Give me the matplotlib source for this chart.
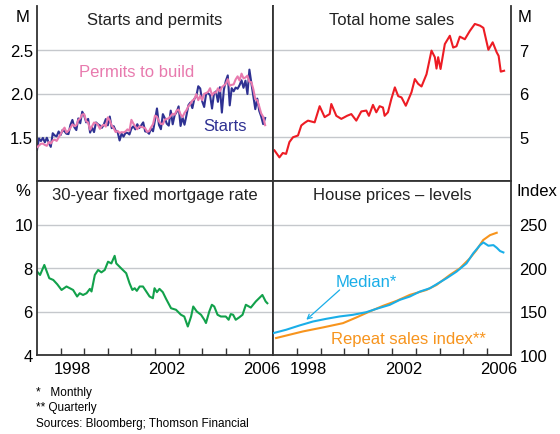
import numpy as np
import matplotlib
matplotlib.use('Agg')
import matplotlib.pyplot as plt

plt.rcParams['font.family'] = ['Liberation Sans', 'DejaVu Sans']

# monthly, Jan 1997 - Sep 2006, millions
starts = [1.355,1.486,1.457,1.492,1.442,1.494,1.437,1.390,1.546,1.520,1.510,1.566,
          1.525,1.584,1.567,1.540,1.536,1.641,1.698,1.614,1.582,1.715,1.660,1.792,
          1.748,1.670,1.710,1.553,1.611,1.559,1.669,1.648,1.635,1.608,1.648,1.708,
          1.636,1.737,1.604,1.626,1.575,1.559,1.463,1.541,1.507,1.549,1.551,1.532,
          1.600,1.625,1.590,1.649,1.605,1.636,1.670,1.567,1.562,1.540,1.602,1.568,
          1.698,1.829,1.642,1.592,1.764,1.717,1.655,1.633,1.804,1.648,1.753,1.788,
          1.853,1.629,1.726,1.643,1.751,1.867,1.897,1.833,1.939,1.967,2.083,2.057,
          1.911,1.846,1.998,2.003,1.981,1.828,2.002,2.024,1.905,2.072,1.782,2.042,
          2.144,2.207,1.864,2.061,2.025,2.068,2.054,2.095,2.151,2.065,2.147,1.994,
          2.273,2.119,1.969,1.821,1.942,1.802,1.737,1.650,1.720]
permits = [1.386,1.405,1.426,1.427,1.412,1.402,1.445,1.428,1.462,1.473,1.458,1.497,
           1.535,1.580,1.610,1.555,1.575,1.607,1.647,1.628,1.636,1.696,1.717,1.760,
           1.764,1.684,1.668,1.586,1.626,1.668,1.662,1.643,1.596,1.631,1.643,1.622,
           1.727,1.692,1.632,1.604,1.559,1.572,1.549,1.558,1.555,1.566,1.590,1.573,
           1.699,1.656,1.623,1.592,1.625,1.618,1.613,1.603,1.562,1.570,1.613,1.649,
           1.747,1.735,1.683,1.654,1.649,1.702,1.710,1.717,1.744,1.769,1.758,1.806,
           1.817,1.762,1.730,1.778,1.810,1.855,1.882,1.920,1.935,1.992,1.924,1.974,
           1.924,1.997,2.004,2.019,2.060,1.978,2.011,2.010,2.059,2.024,2.072,2.091,
           2.111,2.164,2.089,2.099,2.104,2.161,2.196,2.148,2.227,2.173,2.183,2.204,
           2.134,2.130,2.049,1.935,1.924,1.852,1.772,1.734,1.638]
month_t = 1997 + np.arange(len(starts)) / 12

sales_t = [1997.06,1997.27,1997.41,1997.55,1997.69,1997.84,1998.05,1998.19,1998.33,1998.47,
           1998.61,1998.75,1998.96,1999.17,1999.38,1999.45,1999.66,1999.87,2000.01,2000.11,
           2000.29,2000.50,2000.71,2000.92,2001.03,2001.20,2001.34,2001.48,2001.62,2001.69,
           2001.83,2001.97,2002.12,2002.26,2002.40,2002.58,2002.82,2002.96,2003.10,2003.24,
           2003.45,2003.66,2003.80,2003.87,2003.94,2004.04,2004.22,2004.43,2004.57,2004.71,
           2004.85,2005.06,2005.27,2005.48,2005.70,2005.84,2006.05,2006.23,2006.40,2006.48,
           2006.57,2006.71]
sales = [4.70,4.54,4.64,4.62,4.89,5.00,5.04,5.27,5.33,5.38,
         5.36,5.34,5.71,5.46,5.53,5.76,5.49,5.42,5.46,5.49,
         5.53,5.38,5.59,5.61,5.49,5.74,5.57,5.71,5.68,5.49,
         5.57,5.87,6.14,5.94,5.91,5.72,6.03,6.33,6.22,6.16,
         6.44,6.98,6.83,6.57,6.83,6.56,7.13,7.32,7.05,7.08,
         7.30,7.24,7.43,7.59,7.55,7.50,7.00,7.17,6.94,6.86,
         6.50,6.52]

mort_t = [1997.01,1997.13,1997.31,1997.52,1997.69,1997.86,1998.04,1998.25,1998.39,1998.53,
          1998.70,1998.81,1998.95,1999.10,1999.24,1999.31,1999.45,1999.59,1999.73,1999.87,
          2000.01,2000.15,2000.29,2000.36,2000.57,2000.78,2000.92,2001.04,2001.14,2001.23,
          2001.35,2001.49,2001.63,2001.77,2001.91,2001.98,2002.08,2002.19,2002.33,2002.47,
          2002.68,2002.89,2003.10,2003.24,2003.39,2003.53,2003.62,2003.77,2003.95,2004.09,
          2004.16,2004.30,2004.41,2004.51,2004.65,2004.79,2005.00,2005.12,2005.21,2005.31,
          2005.42,2005.57,2005.71,2005.85,2006.06,2006.27,2006.55,2006.69,2006.76]
mort = [7.83,7.68,8.14,7.53,7.45,7.25,6.99,7.15,7.07,6.99,
        6.69,6.84,6.76,6.84,7.04,6.92,7.68,7.91,7.80,7.91,
        8.29,8.21,8.56,8.21,7.98,7.76,7.30,6.99,7.07,6.95,
        7.15,7.15,6.92,6.69,6.61,7.07,6.89,7.04,6.89,6.58,
        6.15,6.08,5.85,5.77,5.31,5.77,6.23,6.00,5.85,5.62,
        5.47,6.00,6.31,6.23,5.85,5.77,5.77,5.62,5.88,5.85,
        5.62,5.73,5.85,6.31,6.18,6.46,6.76,6.46,6.38]

median_t = [1997.02,1997.55,1998.12,1998.68,1999.24,1999.80,2000.36,2000.92,2001.34,2001.90,
            2002.33,2002.75,2003.17,2003.59,2003.87,2004.29,2004.71,2005.13,2005.41,2005.70,
            2005.84,2006.05,2006.26,2006.40,2006.54,2006.68]
median = [125.2,129.0,134.0,138.5,141.6,144.3,146.2,149.2,153.0,157.6,
          163.4,167.2,172.9,176.7,181.3,188.2,195.8,205.3,216.8,226.3,
          229.4,225.6,226.3,223.3,219.5,217.9]

repeat_t = [1997.13,1998.26,1999.10,1999.94,2000.50,2001.06,2001.62,2002.19,2002.75,2003.45,
            2003.87,2004.43,2004.85,2005.27,2005.55,2005.83,2006.12,2006.40]
repeat = [119.5,127.1,131.7,136.6,143.1,150.0,156.5,162.2,169.1,174.8,
          180.5,192.0,199.6,211.1,220.6,232.1,237.8,240.5]

years = list(range(1998, 2007))
year_labels = ['1998', '2002', '2006']

GRID = '#c5c8cc'
SPINE = '#333333'
FS = 12

fig = plt.figure(figsize=(5.6, 4.35), dpi=100)
L, M, R = 37/560, 273/560, 511/560
T, C, B = 1 - 7/435, 1 - 182/435, 1 - 356/435

ax1 = fig.add_axes([L, C, M - L, T - C])
ax2 = fig.add_axes([M, C, R - M, T - C])
ax3 = fig.add_axes([L, B, M - L, C - B])
ax4 = fig.add_axes([M, B, R - M, C - B])

def style(ax, ylim, yt, ylab, side):
    ax.set_xlim(1997, 2007)
    ax.set_ylim(*ylim)
    ax.set_yticks(yt)
    ax.set_yticklabels(ylab, fontsize=FS)
    for v in yt:
        ax.axhline(v, color=GRID, lw=1, zorder=0)
    ax.spines['top'].set_visible(False)
    for s in ['left', 'right', 'bottom']:
        ax.spines[s].set_color(SPINE)
        ax.spines[s].set_linewidth(1.3)
    if side == 'right':
        ax.yaxis.tick_right()
        ax.tick_params(axis='y', length=0, pad=6)
    else:
        ax.tick_params(axis='y', length=0, pad=3)
    ax.tick_params(axis='x', which='both', bottom=False, labelbottom=False)

style(ax1, (1.0, 3.0), [1.5, 2.0, 2.5], ['1.5', '2.0', '2.5'], 'left')
style(ax2, (4, 8), [5, 6, 7], ['5', '6', '7'], 'right')
style(ax3, (4, 12), [4, 6, 8, 10], ['4', '6', '8', '10'], 'left')
style(ax4, (100, 300), [100, 150, 200, 250], ['100', '150', '200', '250'], 'right')

for ax in (ax3, ax4):
    ax.set_xticks(years)
    ax.set_xticks([int(y) + 0.5 for y in year_labels], minor=True)
    ax.set_xticklabels(year_labels, minor=True, fontsize=FS)
    ax.tick_params(axis='x', which='major', bottom=True, direction='in', length=5,
                   width=1, color=SPINE, labelbottom=False)
    ax.tick_params(axis='x', which='minor', bottom=True, length=0, labelbottom=True, pad=4)
    ax.spines['top'].set_visible(True)
    ax.spines['top'].set_color(SPINE)
    ax.spines['top'].set_linewidth(1.3)

# lines
ax1.plot(month_t, permits, color='#e87aae', lw=1.5, zorder=3)
ax1.plot(month_t, starts, color='#2e3192', lw=1.5, zorder=2)
ax2.plot(sales_t, sales, color='#ed1c24', lw=1.5)
ax3.plot(mort_t, mort, color='#12a14b', lw=1.5)
ax4.plot(repeat_t, repeat, color='#f7941d', lw=1.5, zorder=2)
ax4.plot(median_t, median, color='#1aaee8', lw=1.5, zorder=3)

# panel titles
for ax, t in [(ax1, 'Starts and permits'), (ax2, 'Total home sales'),
              (ax3, '30-year fixed mortgage rate'), (ax4, 'House prices \u2013 levels')]:
    ax.text(0.5, 0.925, t, transform=ax.transAxes, ha='center', va='center',
            fontsize=FS, color='#222222')

ax1.text(1998.8, 2.25, 'Permits to build', color='#e87aae', fontsize=FS, va='center')
ax1.text(2005.9, 1.63, 'Starts', color='#2e3192', fontsize=FS, va='center', ha='right')
ax4.text(2000.9, 184.7, 'Median*', color='#1aaee8', fontsize=FS, va='center', ha='center')
ax4.text(2002.7, 119.5, 'Repeat sales index**', color='#f7941d', fontsize=FS,
         va='center', ha='center')
ax4.annotate('', xy=(1998.4, 140.5), xytext=(1999.8, 174.8),
             arrowprops=dict(arrowstyle='->', color='#1aaee8', lw=0.9,
                             mutation_scale=8, shrinkA=0, shrinkB=0))

# units
fig.text(23/560, 1 - 17/435, 'M', ha='center', va='center', fontsize=FS)
fig.text(525/560, 1 - 17/435, 'M', ha='center', va='center', fontsize=FS)
fig.text(23/560, 1 - 192/435, '%', ha='center', va='center', fontsize=FS)
fig.text(517/560, 1 - 192/435, 'Index', ha='left', va='center', fontsize=FS)

# footnotes
for y, t in [(393, '*   Monthly'), (408, '** Quarterly'),
             (424, 'Sources: Bloomberg; Thomson Financial')]:
    fig.text(36/560, 1 - y/435, t, ha='left', va='center', fontsize=8.5)

fig.savefig('out.png', dpi=100)
